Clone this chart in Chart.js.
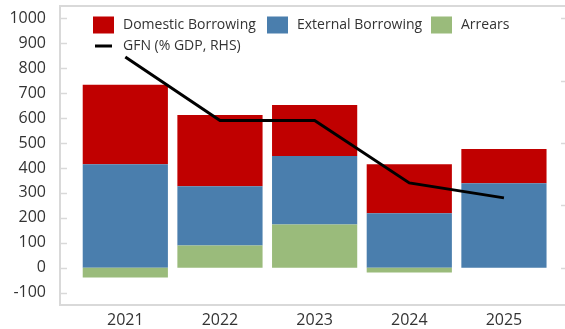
<!DOCTYPE html>
<html>
<head>
<meta charset="utf-8">
<script src="https://cdn.jsdelivr.net/npm/chart.js@4/dist/chart.umd.min.js"></script>
<style>
  html, body { margin: 0; padding: 0; background: #fff; }
  #wrap { width: 565px; height: 329px; position: relative; }
</style>
</head>
<body>
<div id="wrap"><canvas id="chart"></canvas></div>
<script>
const years = [2021, 2022, 2023, 2024, 2025];
const domestic = [319, 286, 205, 197, 137];
const external = [415, 238, 275, 218, 339];
const arrears = [-40, 89, 173, -20, 0];
const gfn = [16.9, 11.8, 11.8, 6.8, 5.6];
const leftTicks = [-100, 0, 100, 200, 300, 400, 500, 600, 700, 800, 900, 1000];
const rightTicks = [0, 5, 10, 15, 20];

const RED = "#C00000";
const BLUE = "#4A7EAD";
const GREEN = "#9ABB7B";
const FRAME = "#D9D9D9";
const FONT = '"Open Sans", "DejaVu Sans", sans-serif';

const pts = (vals) => years.map((yr, i) => ({ x: yr, y: vals[i] }));

// frame top line, inward tick marks, and the in-plot legend
const extras = {
  id: "extras",
  afterDraw(chart) {
    const { ctx, chartArea: a } = chart;
    const y = chart.scales.y, y1 = chart.scales.y1;
    ctx.save();
    ctx.strokeStyle = FRAME;
    ctx.lineWidth = 2;
    ctx.beginPath();
    ctx.moveTo(a.left, a.top);
    ctx.lineTo(a.right, a.top);
    ctx.stroke();
    ctx.lineWidth = 1.5;
    leftTicks.forEach((v) => {
      const p = Math.round(y.getPixelForValue(v)) + 0.5;
      ctx.beginPath();
      ctx.moveTo(a.left + 1, p);
      ctx.lineTo(a.left + 7, p);
      ctx.stroke();
    });
    rightTicks.forEach((v) => {
      const p = Math.round(y1.getPixelForValue(v)) + 0.5;
      ctx.beginPath();
      ctx.moveTo(a.right - 4, p);
      ctx.lineTo(a.right, p);
      ctx.stroke();
    });

    // legend
    ctx.font = "14px " + FONT;
    ctx.textBaseline = "middle";
    const items = [
      { ds: 2, x: 93, y: 25 },
      { ds: 1, x: 267, y: 25 },
      { ds: 0, x: 431, y: 25 },
      { ds: 3, x: 93, y: 46 },
    ];
    items.forEach((it) => {
      const d = chart.data.datasets[it.ds];
      if (d.type === "line") {
        ctx.fillStyle = "#000";
        ctx.fillRect(it.x + 2, it.y - 1.5, 17, 3);
      } else {
        ctx.fillStyle = d.backgroundColor;
        ctx.fillRect(it.x, it.y - 8.5, 21, 17);
      }
      ctx.fillStyle = "#333";
      ctx.fillText(d.label, it.x + 30, it.y);
    });
    ctx.restore();
  },
};

new Chart(document.getElementById("chart"), {
  type: "bar",
  data: {
    datasets: [
      { label: "Arrears", data: pts(arrears), backgroundColor: GREEN, order: 1 },
      { label: "External Borrowing", data: pts(external), backgroundColor: BLUE, order: 1 },
      { label: "Domestic Borrowing", data: pts(domestic), backgroundColor: RED, order: 1 },
      {
        type: "line",
        label: "GFN (% GDP, RHS)",
        data: pts(gfn),
        yAxisID: "y1",
        borderColor: "#000",
        borderWidth: 3,
        pointRadius: 0,
        tension: 0,
        order: 0,
      },
    ],
  },
  options: {
    responsive: true,
    maintainAspectRatio: false,
    animation: false,
    layout: { padding: { top: 6, right: 0, left: 0, bottom: 0 } },
    datasets: { bar: { categoryPercentage: 1, barPercentage: 0.9 } },
    plugins: { legend: { display: false }, tooltip: { enabled: false } },
    scales: {
      x: {
        type: "linear",
        stacked: true,
        offset: false,
        min: 2020.31,
        max: 2025.645,
        afterBuildTicks: (s) => { s.ticks = years.map((v) => ({ value: v })); },
        afterFit: (s) => { s.height = 24; s.paddingLeft = 0; s.paddingRight = 0; },
        grid: { display: false, drawTicks: false },
        border: { display: true, color: FRAME, width: 2 },
        ticks: {
          padding: 6,
          color: "#333",
          font: { family: FONT, size: 16 },
          callback: (v) => String(v),
        },
      },
      y: {
        stacked: true,
        min: -150,
        max: 1050,
        afterBuildTicks: (s) => { s.ticks = leftTicks.map((v) => ({ value: v })); },
        afterFit: (s) => { s.width = 60; s.paddingTop = 0; s.paddingBottom = 0; },
        grid: { display: false, drawTicks: false },
        border: { display: true, color: FRAME, width: 2 },
        ticks: {
          padding: 14,
          color: "#333",
          font: { family: FONT, size: 16 },
          callback: (v) => String(v),
        },
      },
      y1: {
        position: "right",
        min: -3,
        max: 21,
        afterBuildTicks: (s) => { s.ticks = rightTicks.map((v) => ({ value: v })); },
        afterFit: (s) => { s.width = 0; s.paddingTop = 0; s.paddingBottom = 0; },
        grid: { display: false, drawTicks: false },
        border: { display: false },
        ticks: { display: false },
      },
    },
  },
  plugins: [extras],
});
</script>
</body>
</html>
